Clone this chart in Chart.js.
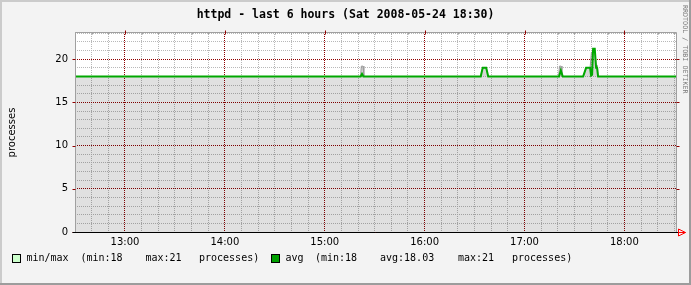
<!DOCTYPE html>
<html>
<head>
<meta charset="utf-8">
<script src="https://cdn.jsdelivr.net/npm/chart.js@4"></script>
<style>
html, body { margin: 0; padding: 0; background: #f3f3f3; }
canvas { display: block; }
</style>
</head>
<body>
<canvas id="chart" width="691" height="285"></canvas>
<script>
// Time axis in minutes since midnight (12:30 .. 18:31)
const timeMin = 750;
const timeMax = 1111;
const hourTicks = [780, 840, 900, 960, 1020, 1080];
const hourLabels = ['13:00', '14:00', '15:00', '16:00', '17:00', '18:00'];

// Y axis
const yMax = 23.15;
const yMajorTicks = [0, 5, 10, 15, 20];

// min series (flat)
const minTimes = [750, 1111];
const minValues = [18, 18];

// max series
const maxTimes = [750, 921.5, 922, 923, 923.5, 993.7, 994.9, 997.0, 998.2, 1040.5, 1041, 1042, 1042.5,
                  1055.2, 1057, 1059.4, 1060.2, 1062.4, 1063, 1063.8, 1064.2, 1111];
const maxValues = [18, 18, 19.2, 19.2, 18, 18, 19, 19, 18, 18, 19.2, 19.2, 18,
                   18, 19, 19, 20.8, 20.8, 19.3, 19.3, 18, 18];

// avg series
const avgTimes = [750, 921.6, 922.4, 923.2, 993.7, 994.9, 997.0, 998.2, 1040.8, 1041.8, 1043,
                  1055.2, 1057, 1059.4, 1060, 1060.6, 1061.2, 1062.2, 1063, 1063.6, 1064.2, 1111];
const avgValues = [18, 18, 18.3, 18, 18, 19, 19, 18, 18, 18.7, 18,
                   18, 19, 19, 18.1, 18.2, 21.2, 21.2, 19, 19, 18, 18];

// Legend texts
const legendMinMax = ['min/max', '(min:18', 'max:21', 'processes)'];
const legendAvg = ['avg', '(min:18', 'avg:18.03', 'max:21', 'processes)'];

const MAJOR = '#900000';
const MINOR = '#b8b8b8';

function points(times, values) {
    return times.map((t, i) => ({ x: t, y: values[i] }));
}

// Background, frame, texts in the rrdtool style
const rrdFrame = {
    id: 'rrdFrame',
    beforeDraw(chart) {
        const { ctx, chartArea: a, width, height } = chart;
        ctx.save();
        ctx.fillStyle = '#f3f3f3';
        ctx.fillRect(0, 0, width, height);
        ctx.fillStyle = '#cbcbcb';
        ctx.fillRect(0, 0, width, 2);
        ctx.fillRect(0, 0, 2, height);
        ctx.fillStyle = '#9c9c9c';
        ctx.fillRect(0, height - 2, width, 2);
        ctx.fillRect(width - 2, 0, 2, height);
        ctx.fillStyle = '#ffffff';
        ctx.fillRect(a.left, a.top, a.right - a.left, a.bottom - a.top);
        ctx.restore();
    },
    afterDatasetsDraw(chart) {
        const { ctx, chartArea: a } = chart;
        const xs = chart.scales.x, ys = chart.scales.y;
        const L = Math.round(a.left) + 0.5, R = Math.round(a.right) + 0.5;
        const T = Math.round(a.top) + 0.5, B = Math.round(ys.getPixelForValue(0)) + 0.5;
        ctx.save();
        ctx.lineWidth = 1;
        // frame
        ctx.strokeStyle = '#a0a0a0';
        ctx.beginPath();
        ctx.moveTo(L, B); ctx.lineTo(L, T); ctx.lineTo(R, T); ctx.lineTo(R, B);
        ctx.stroke();
        // top ticks
        xs.ticks.forEach(t => {
            const px = Math.round(xs.getPixelForValue(t.value)) + 0.5;
            const major = hourTicks.includes(t.value);
            ctx.strokeStyle = major ? MAJOR : '#a0a0a0';
            ctx.beginPath();
            ctx.moveTo(px, major ? T - 2 : T);
            ctx.lineTo(px, T + 2);
            ctx.stroke();
        });
        // left / right ticks on major y values
        yMajorTicks.forEach(v => {
            const py = Math.round(ys.getPixelForValue(v)) + 0.5;
            ctx.strokeStyle = MAJOR;
            ctx.beginPath();
            ctx.moveTo(L - 3, py); ctx.lineTo(L, py);
            ctx.moveTo(R, py); ctx.lineTo(R + 3, py);
            ctx.stroke();
        });
        // x axis
        ctx.strokeStyle = '#000';
        ctx.beginPath();
        ctx.moveTo(L - 3, B); ctx.lineTo(R + 2, B);
        ctx.stroke();
        // arrow
        ctx.strokeStyle = '#ff0000';
        ctx.beginPath();
        ctx.moveTo(R + 2, B); ctx.lineTo(R + 9, B);
        ctx.moveTo(R + 2, B - 3.5); ctx.lineTo(R + 2, B + 3.5); ctx.lineTo(R + 9, B); ctx.closePath();
        ctx.stroke();
        ctx.restore();
    },
    afterDraw(chart) {
        const { ctx, width } = chart;
        ctx.save();
        ctx.fillStyle = '#000';
        ctx.textBaseline = 'middle';
        // title
        ctx.font = 'bold 11.5px "DejaVu Sans Mono"';
        ctx.textAlign = 'center';
        ctx.fillText('httpd - last 6 hours (Sat 2008-05-24 18:30)', width / 2, 15);
        // y label
        ctx.save();
        ctx.translate(12.5, 132.5);
        ctx.rotate(-Math.PI / 2);
        ctx.font = '10px "DejaVu Sans"';
        ctx.fillText('processes', 0, 0);
        ctx.restore();
        // credit
        ctx.save();
        ctx.translate(684.5, 5);
        ctx.rotate(Math.PI / 2);
        ctx.textAlign = 'left';
        ctx.fillStyle = '#7a7a7a';
        ctx.font = '6.7px "DejaVu Sans Mono"';
        ctx.fillText('RRDTOOL / TOBI OETIKER', 0, 0);
        ctx.restore();
        // legend
        ctx.textAlign = 'left';
        ctx.font = '10px "DejaVu Sans Mono"';
        ctx.lineWidth = 1;
        ctx.fillStyle = '#ccffcc';
        ctx.fillRect(12.5, 254.5, 8, 8);
        ctx.strokeStyle = '#000';
        ctx.strokeRect(12.5, 254.5, 8, 8);
        ctx.fillStyle = '#00a000';
        ctx.fillRect(271.5, 254.5, 8, 8);
        ctx.strokeRect(271.5, 254.5, 8, 8);
        ctx.fillStyle = '#000';
        const ly = 258.5;
        [26.5, 80.5, 145.5, 199].forEach((x, i) => ctx.fillText(legendMinMax[i], x, ly));
        [285.5, 315, 380, 458, 512].forEach((x, i) => ctx.fillText(legendAvg[i], x, ly));
        ctx.restore();
    }
};

const ctx = document.getElementById('chart').getContext('2d');
const chart = new Chart(ctx, {
    type: 'line',
    data: {
        datasets: [
            {
                label: 'min',
                data: points(minTimes, minValues),
                fill: 'origin',
                backgroundColor: 'rgba(0,0,0,0.12)',
                borderWidth: 0,
                pointRadius: 0,
                order: 2
            },
            {
                label: 'max',
                data: points(maxTimes, maxValues),
                fill: 0,
                backgroundColor: 'rgba(0,0,0,0.16)',
                borderColor: '#9a9a9a',
                borderWidth: 1,
                pointRadius: 0,
                order: 1
            },
            {
                label: 'avg',
                data: points(avgTimes, avgValues),
                fill: false,
                borderColor: '#00a800',
                borderWidth: 2,
                pointRadius: 0,
                order: 0
            }
        ]
    },
    options: {
        responsive: false,
        animation: false,
        events: [],
        layout: { padding: { top: 32, right: 15, bottom: 0, left: 0 } },
        plugins: {
            legend: { display: false },
            title: { display: false },
            tooltip: { enabled: false }
        },
        elements: { line: { tension: 0 } },
        scales: {
            x: {
                type: 'linear',
                min: timeMin,
                max: timeMax,
                afterBuildTicks: s => {
                    const t = [];
                    for (let v = timeMin; v <= timeMax; v += 10) t.push({ value: v });
                    s.ticks = t;
                },
                afterFit: s => { s.height = 53; },
                ticks: {
                    autoSkip: false,
                    maxRotation: 0,
                    padding: 4,
                    color: '#000',
                    font: { family: 'DejaVu Sans', size: 10 },
                    callback: v => {
                        const i = hourTicks.indexOf(v);
                        return i >= 0 ? hourLabels[i] : '';
                    }
                },
                grid: {
                    drawTicks: false,
                    lineWidth: 1,
                    color: c => (c.tick && hourTicks.includes(c.tick.value)) ? MAJOR : MINOR
                },
                border: { display: false, dash: [1, 1] }
            },
            y: {
                min: 0,
                max: yMax,
                afterBuildTicks: s => {
                    const t = [];
                    for (let v = 0; v <= yMax; v += 1) t.push({ value: v });
                    s.ticks = t;
                },
                afterFit: s => { s.width = 75; },
                ticks: {
                    autoSkip: false,
                    padding: 7,
                    color: '#000',
                    font: { family: 'DejaVu Sans', size: 10 },
                    callback: v => yMajorTicks.includes(v) ? String(v) : ''
                },
                grid: {
                    drawTicks: false,
                    lineWidth: 1,
                    color: c => (c.tick && yMajorTicks.includes(c.tick.value)) ? MAJOR : MINOR
                },
                border: { display: false, dash: [1, 1] }
            }
        }
    },
    plugins: [rrdFrame]
});
</script>
</body>
</html>
